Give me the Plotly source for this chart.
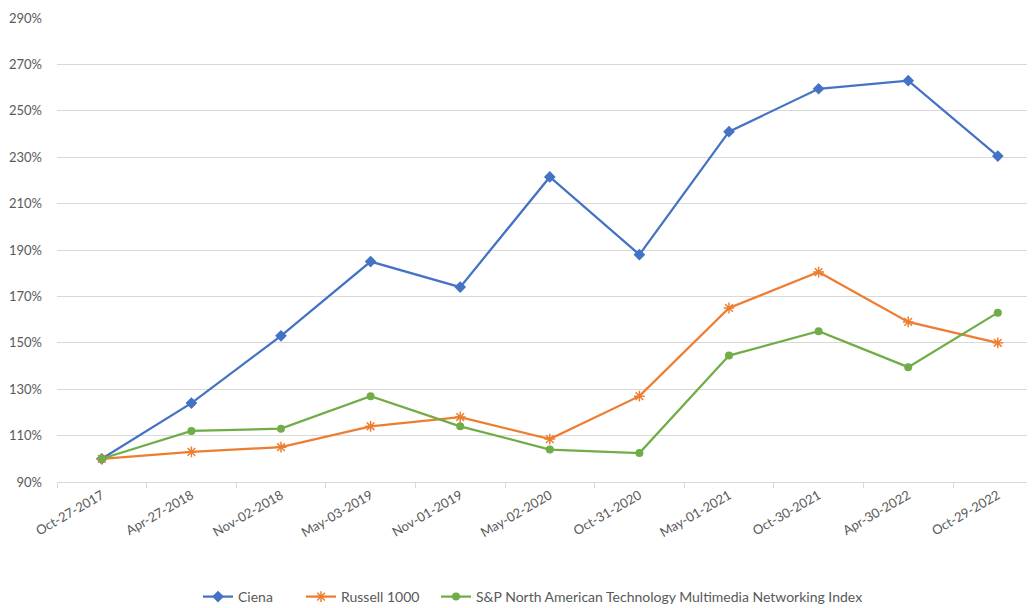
import plotly.graph_objects as go

dates = ["Oct-27-2017", "Apr-27-2018", "Nov-02-2018", "May-03-2019", "Nov-01-2019",
         "May-02-2020", "Oct-31-2020", "May-01-2021", "Oct-30-2021", "Apr-30-2022", "Oct-29-2022"]
ciena = [100, 124, 153, 185, 174, 221.5, 188, 241, 259.5, 263, 230.5]
russell = [100, 103, 105, 114, 118, 108.5, 127, 165, 180.5, 159, 150]
sp_net = [100, 112, 113, 127, 114, 104, 102.5, 144.5, 155, 139.5, 163]

fig = go.Figure()
series = [
    ("Ciena", ciena, "#4472C4", dict(symbol="diamond", size=9, color="#4472C4"), "legend"),
    ("Russell 1000", russell, "#ED7D31", dict(symbol="asterisk-open", size=9, color="#ED7D31", line=dict(width=1.5, color="#ED7D31")), "legend2"),
    ("S&P North American Technology Multimedia Networking Index", sp_net, "#70AD47", dict(symbol="circle", size=8, color="#70AD47"), "legend3"),
]
for name, vals, col, mk, lg in series:
    fig.add_trace(go.Scatter(x=dates, y=vals, name=name, mode="lines+markers",
                             line=dict(color=col, width=2.25), marker=mk, legend=lg))

W, H = 1035, 608
leg_y = 1 - (597 - 8) / H
def leg(xpx):
    return dict(orientation="h", xref="container", yref="container",
                x=xpx / W, xanchor="left", y=leg_y, yanchor="middle",
                font=dict(size=14, color="#595959"), itemwidth=30,
                bgcolor="rgba(0,0,0,0)")

fig.update_layout(
    width=W, height=H,
    margin=dict(l=49, r=8, t=10, b=134),
    paper_bgcolor="white", plot_bgcolor="white",
    font=dict(family="Lato, Open Sans, sans-serif", size=13, color="#595959"),
    showlegend=True,
    legend=leg(190),
    legend2=leg(293),
    legend3=leg(428),
    xaxis=dict(type="category", range=[-0.5, 10.415], tickangle=-30, tickson="boundaries",
               ticks="outside", ticklen=5, tickcolor="#D9D9D9", showgrid=False,
               showline=True, linecolor="#D9D9D9", linewidth=1, automargin=False,
               tickfont=dict(size=13, color="#595959")),
    yaxis=dict(range=[90, 290], dtick=20, tick0=90, ticksuffix="%", showgrid=True,
               gridcolor="#D9D9D9", gridwidth=1, zeroline=False, showline=False,
               automargin=False,
               tickfont=dict(size=13, color="#595959"), ticklabelstandoff=14),
)
fig.write_html("out.html")
